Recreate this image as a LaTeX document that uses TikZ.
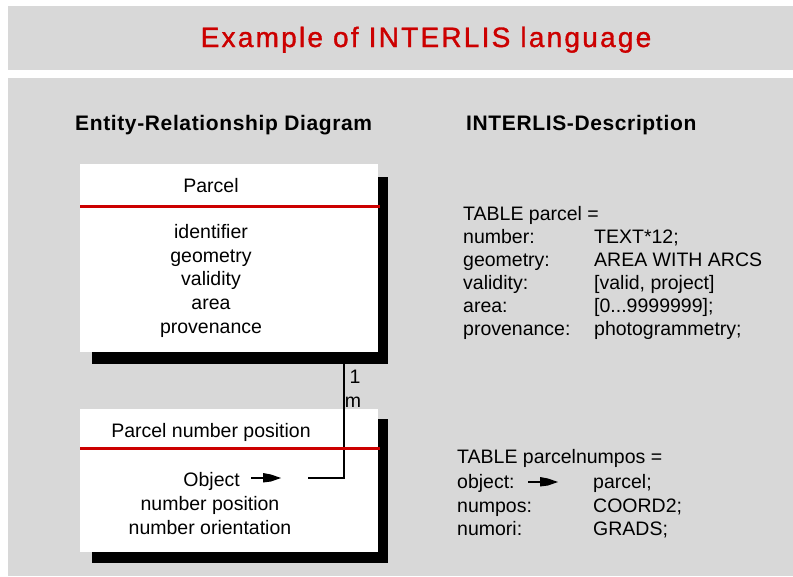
\documentclass[tikz,border=0pt]{standalone}
\usepackage{fontspec}
\setmainfont{Liberation Sans}
\newfontfamily\titlefont{Liberation Sans}[FakeBold=1.2, LetterSpace=8]
\definecolor{panelgray}{RGB}{216,216,216}
\definecolor{rulered}{RGB}{204,0,0}
\begin{document}
\begin{tikzpicture}[x=1pt,y=-1pt,
  panel/.style={fill=panelgray, draw=none},
  boxface/.style={fill=white, draw=none, anchor=north west, inner sep=0pt, minimum width=298pt},
  boxshade/.style={fill=black, draw=none, anchor=north west, inner sep=0pt, minimum width=296pt},
  divider/.style={draw=rulered, line width=3pt},
  body/.style={font=\fontsize{19.5}{24}\selectfont, inner sep=0pt, anchor=base},
  bodyleft/.style={body, anchor=base west},
  heading/.style={font=\fontsize{21}{25}\selectfont\bfseries\addfontfeature{LetterSpace=3}, inner sep=0pt, anchor=base west},
  titletext/.style={font=\titlefont\fontsize{28}{32}\selectfont, text=rulered, inner sep=0pt, anchor=base},
  link/.style={draw=black, line width=1.3pt},
  objptr/.pic={
    \draw[line width=1.6pt] (0,0) -- (16,0);
    \fill (12,-5) -- (20,-3.5) -- (30,0) -- (20,3.5) -- (12,4.5) -- cycle;
  },
]
\useasboundingbox (0,0) rectangle (793,576);
\fill[white] (0,0) rectangle (793,576);

% background panels
\fill[panel] (8,6) rectangle (793,70);
\fill[panel] (8,78) rectangle (793,576);

% title and column headings
\node[titletext] (title) at (426,47) {Example of INTERLIS language};
\node[heading] (erhead) at (75,130) {Entity-Relationship Diagram};
\node[heading] (ilihead) at (466,130) {INTERLIS-Description};

% entity boxes with drop shadows
\node[boxshade, minimum height=187pt] (parcelshade) at (92,177) {};
\node[boxface, minimum height=188pt] (parcel) at (80,164) {};
\node[boxshade, minimum height=144pt] (numposshade) at (92,419) {};
\node[boxface, minimum height=143pt] (numpos) at (80,409) {};

% relationship line: Parcel (1) to Object (m)
\coordinate (bend) at (344,478);
\coordinate (objend) at (308,478);
\draw[link] (parcelshade.south -| bend) -- (bend) -- (objend);

% header dividers
\draw[divider] (parcel.west |- 0,206) -- (380,206);
\draw[divider] (numpos.west |- 0,448) -- (380,448);

% Parcel entity
\node[body] (parceltitle) at (211,192) {Parcel};
\node[body] (pa1) at (211,238) {identifier};
\node[body] (pa2) at (211,262) {geometry};
\node[body] (pa3) at (211,285) {validity};
\node[body] (pa4) at (211,309) {area};
\node[body] (pa5) at (211,333) {provenance};

% Parcel number position entity
\node[body] (numpostitle) at (211,437) {Parcel number position};
\node[body, anchor=base east] (na1) at (240,486) {Object};
\pic at (251,478) {objptr};
\node[body] (na2) at (210,510) {number position};
\node[body] (na3) at (210,534) {number orientation};

% cardinalities
\node[body] (card1) at (355,383) {1};
\node[body] (cardm) at (353,407) {m};

% INTERLIS description of table parcel
\node[bodyleft] (t1) at (463,220) {TABLE parcel =};
\node[bodyleft] (t1a) at (463,243) {number:};
\node[bodyleft] (t1b) at (463,266) {geometry:};
\node[bodyleft] (t1c) at (463,289) {validity:};
\node[bodyleft] (t1d) at (463,312) {area:};
\node[bodyleft] (t1e) at (463,335) {provenance:};
\node[bodyleft] (t1av) at (594,243) {TEXT*12;};
\node[bodyleft] (t1bv) at (594,266) {AREA WITH ARCS};
\node[bodyleft] (t1cv) at (594,289) {[valid, project]};
\node[bodyleft] (t1dv) at (594,312) {[0...9999999];};
\node[bodyleft] (t1ev) at (594,335) {photogrammetry;};

% INTERLIS description of table parcelnumpos
\node[bodyleft] (t2) at (457,463) {TABLE parcelnumpos =};
\node[bodyleft] (t2a) at (457,488) {object:};
\pic at (528,482) {objptr};
\node[bodyleft] (t2b) at (457,512) {numpos:};
\node[bodyleft] (t2c) at (457,535) {numori:};
\node[bodyleft] (t2av) at (593,488) {parcel;};
\node[bodyleft] (t2bv) at (593,512) {COORD2;};
\node[bodyleft] (t2cv) at (593,535) {GRADS;};
\end{tikzpicture}
\end{document}
